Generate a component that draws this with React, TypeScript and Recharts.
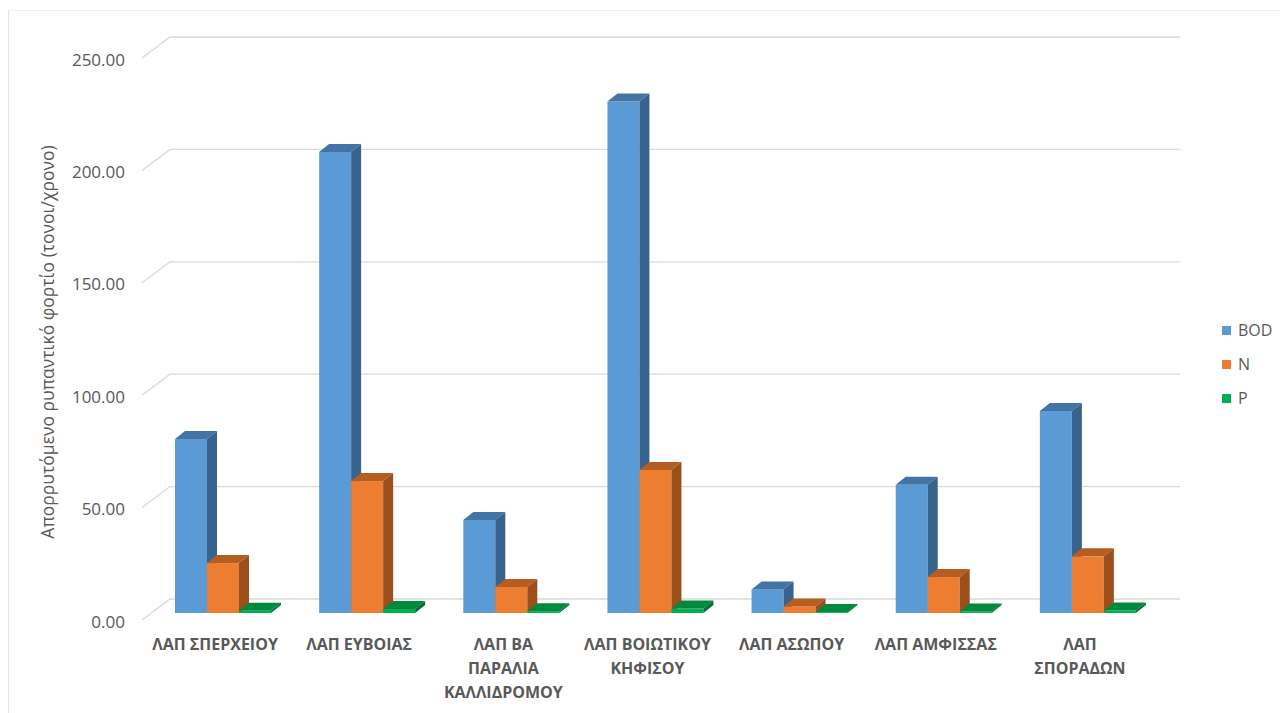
import { BarChart, Bar, XAxis, YAxis, CartesianGrid, Legend } from "recharts";

const categories = [
  "ΛΑΠ ΣΠΕΡΧΕΙΟΥ",
  "ΛΑΠ ΕΥΒΟΙΑΣ",
  "ΛΑΠ ΒΑ ΠΑΡΑΛΙΑ ΚΑΛΛΙΔΡΟΜΟΥ",
  "ΛΑΠ ΒΟΙΩΤΙΚΟΥ ΚΗΦΙΣΟΥ",
  "ΛΑΠ ΑΣΩΠΟΥ",
  "ΛΑΠ ΑΜΦΙΣΣΑΣ",
  "ΛΑΠ ΣΠΟΡΑΔΩΝ",
];
const tickLines = [
  ["ΛΑΠ ΣΠΕΡΧΕΙΟΥ"],
  ["ΛΑΠ ΕΥΒΟΙΑΣ"],
  ["ΛΑΠ ΒΑ", "ΠΑΡΑΛΙΑ", "ΚΑΛΛΙΔΡΟΜΟΥ"],
  ["ΛΑΠ ΒΟΙΩΤΙΚΟΥ", "ΚΗΦΙΣΟΥ"],
  ["ΛΑΠ ΑΣΩΠΟΥ"],
  ["ΛΑΠ ΑΜΦΙΣΣΑΣ"],
  ["ΛΑΠ", "ΣΠΟΡΑΔΩΝ"],
];
const bod = [77.4, 205.1, 41.4, 227.5, 10.5, 57.0, 89.9];
const n = [22.2, 58.7, 11.6, 63.6, 2.9, 16.0, 25.2];
const p = [1.0, 1.8, 0.8, 2.0, 0.4, 0.7, 1.1];
const yTicks = [0, 50, 100, 150, 200, 250];

const data = categories.map((name, i) => ({ name, BOD: bod[i], N: n[i], P: p[i] }));

const FONT = "'Open Sans', 'Noto Sans', sans-serif";
const DX = 10;
const DY = 8;

const faces: Record<string, { front: string; top: string; side: string }> = {
  BOD: { front: "#5B9BD5", top: "#4374A3", side: "#38638C" },
  N: { front: "#ED7D31", top: "#B65D22", side: "#9A4F1D" },
  P: { front: "#00B050", top: "#008A3E", side: "#006F31" },
};

const Bar3D = (key: string) => (props: any) => {
  const { x, y, width, height } = props;
  const c = faces[key];
  const h = Math.max(height, 0);
  return (
    <g>
      <rect x={x} y={y} width={width} height={h} fill={c.front} />
      <polygon
        points={`${x},${y} ${x + DX},${y - DY} ${x + width + DX},${y - DY} ${x + width},${y}`}
        fill={c.top}
      />
      <polygon
        points={`${x + width},${y} ${x + width + DX},${y - DY} ${x + width + DX},${y + h - DY} ${x + width},${y + h}`}
        fill={c.side}
      />
    </g>
  );
};

const GridLine = (props: any) => {
  const { y1, x2 } = props;
  return (
    <path
      key={props.key}
      d={`M142,${y1 + 7} L170,${y1 - 14} L${x2 + 20},${y1 - 14}`}
      stroke="#D9D9D9"
      strokeWidth={1.3}
      fill="none"
    />
  );
};

const YTick = (props: any) => (
  <text x={125} y={props.y + 8} textAnchor="end" dominantBaseline="central" fontSize={17} fill="#595959" fontFamily={FONT}>
    {Number(props.payload.value).toFixed(2)}
  </text>
);

const XTick = (props: any) => {
  const idx = props.index ?? categories.indexOf(props.payload.value);
  const lines = tickLines[idx] || [props.payload.value];
  return (
    <text x={props.x - 8} y={650} textAnchor="middle" fontSize={16} fontWeight={700} fill="#595959" fontFamily={FONT}>
      {lines.map((l, i) => (
        <tspan key={i} x={props.x - 8} dy={i === 0 ? 0 : 24}>
          {l}
        </tspan>
      ))}
    </text>
  );
};

const YTitle = () => (
  <text
    x={47}
    y={342}
    transform="rotate(-90 47 342)"
    textAnchor="middle"
    dominantBaseline="central"
    fontSize={17.5}
    fill="#595959"
    fontFamily={FONT}
  >
    Απορρυτόμενο ρυπαντικό φορτίο (τονοι/χρονο)
  </text>
);

const LegendBox = () => (
  <div style={{ fontFamily: FONT, fontSize: 16, color: "#595959" }}>
    {["BOD", "N", "P"].map((k) => (
      <div key={k} style={{ display: "flex", alignItems: "center", height: 34 }}>
        <span style={{ width: 9, height: 9, background: faces[k].front, marginRight: 7, display: "inline-block" }} />
        <span>{k}</span>
      </div>
    ))}
  </div>
);

export default function App() {
  return (
    <div style={{ position: "absolute", left: 0, top: 0, width: 1280, height: 713, background: "#fff" }}>
      <div
        style={{
          position: "absolute",
          left: 8,
          top: 10,
          width: 1272,
          height: 703,
          borderTop: "1px solid #F0F0F0",
          borderLeft: "1px solid #DCE6F1",
        }}
      />
      <BarChart
        width={1280}
        height={713}
        data={data}
        margin={{ top: 51, right: 60, bottom: 0, left: 51 }}
        barGap={0}
        barSize={32}
        style={{ position: "absolute", left: 0, top: 0 }}
      >
        <CartesianGrid vertical={false} horizontal={GridLine} />
        <XAxis dataKey="name" axisLine={false} tickLine={false} tick={XTick} interval={0} height={100} />
        <YAxis
          width={100}
          domain={[0, 250]}
          ticks={yTicks}
          axisLine={false}
          tickLine={false}
          tick={YTick}
          label={<YTitle />}
        />
        <Legend
          layout="vertical"
          verticalAlign="top"
          align="right"
          content={<LegendBox />}
          wrapperStyle={{ position: "absolute", left: 1222, top: 313, width: 60 }}
        />
        <Bar dataKey="BOD" isAnimationActive={false} shape={Bar3D("BOD")} />
        <Bar dataKey="N" isAnimationActive={false} shape={Bar3D("N")} />
        <Bar dataKey="P" isAnimationActive={false} shape={Bar3D("P")} />
      </BarChart>
    </div>
  );
}
